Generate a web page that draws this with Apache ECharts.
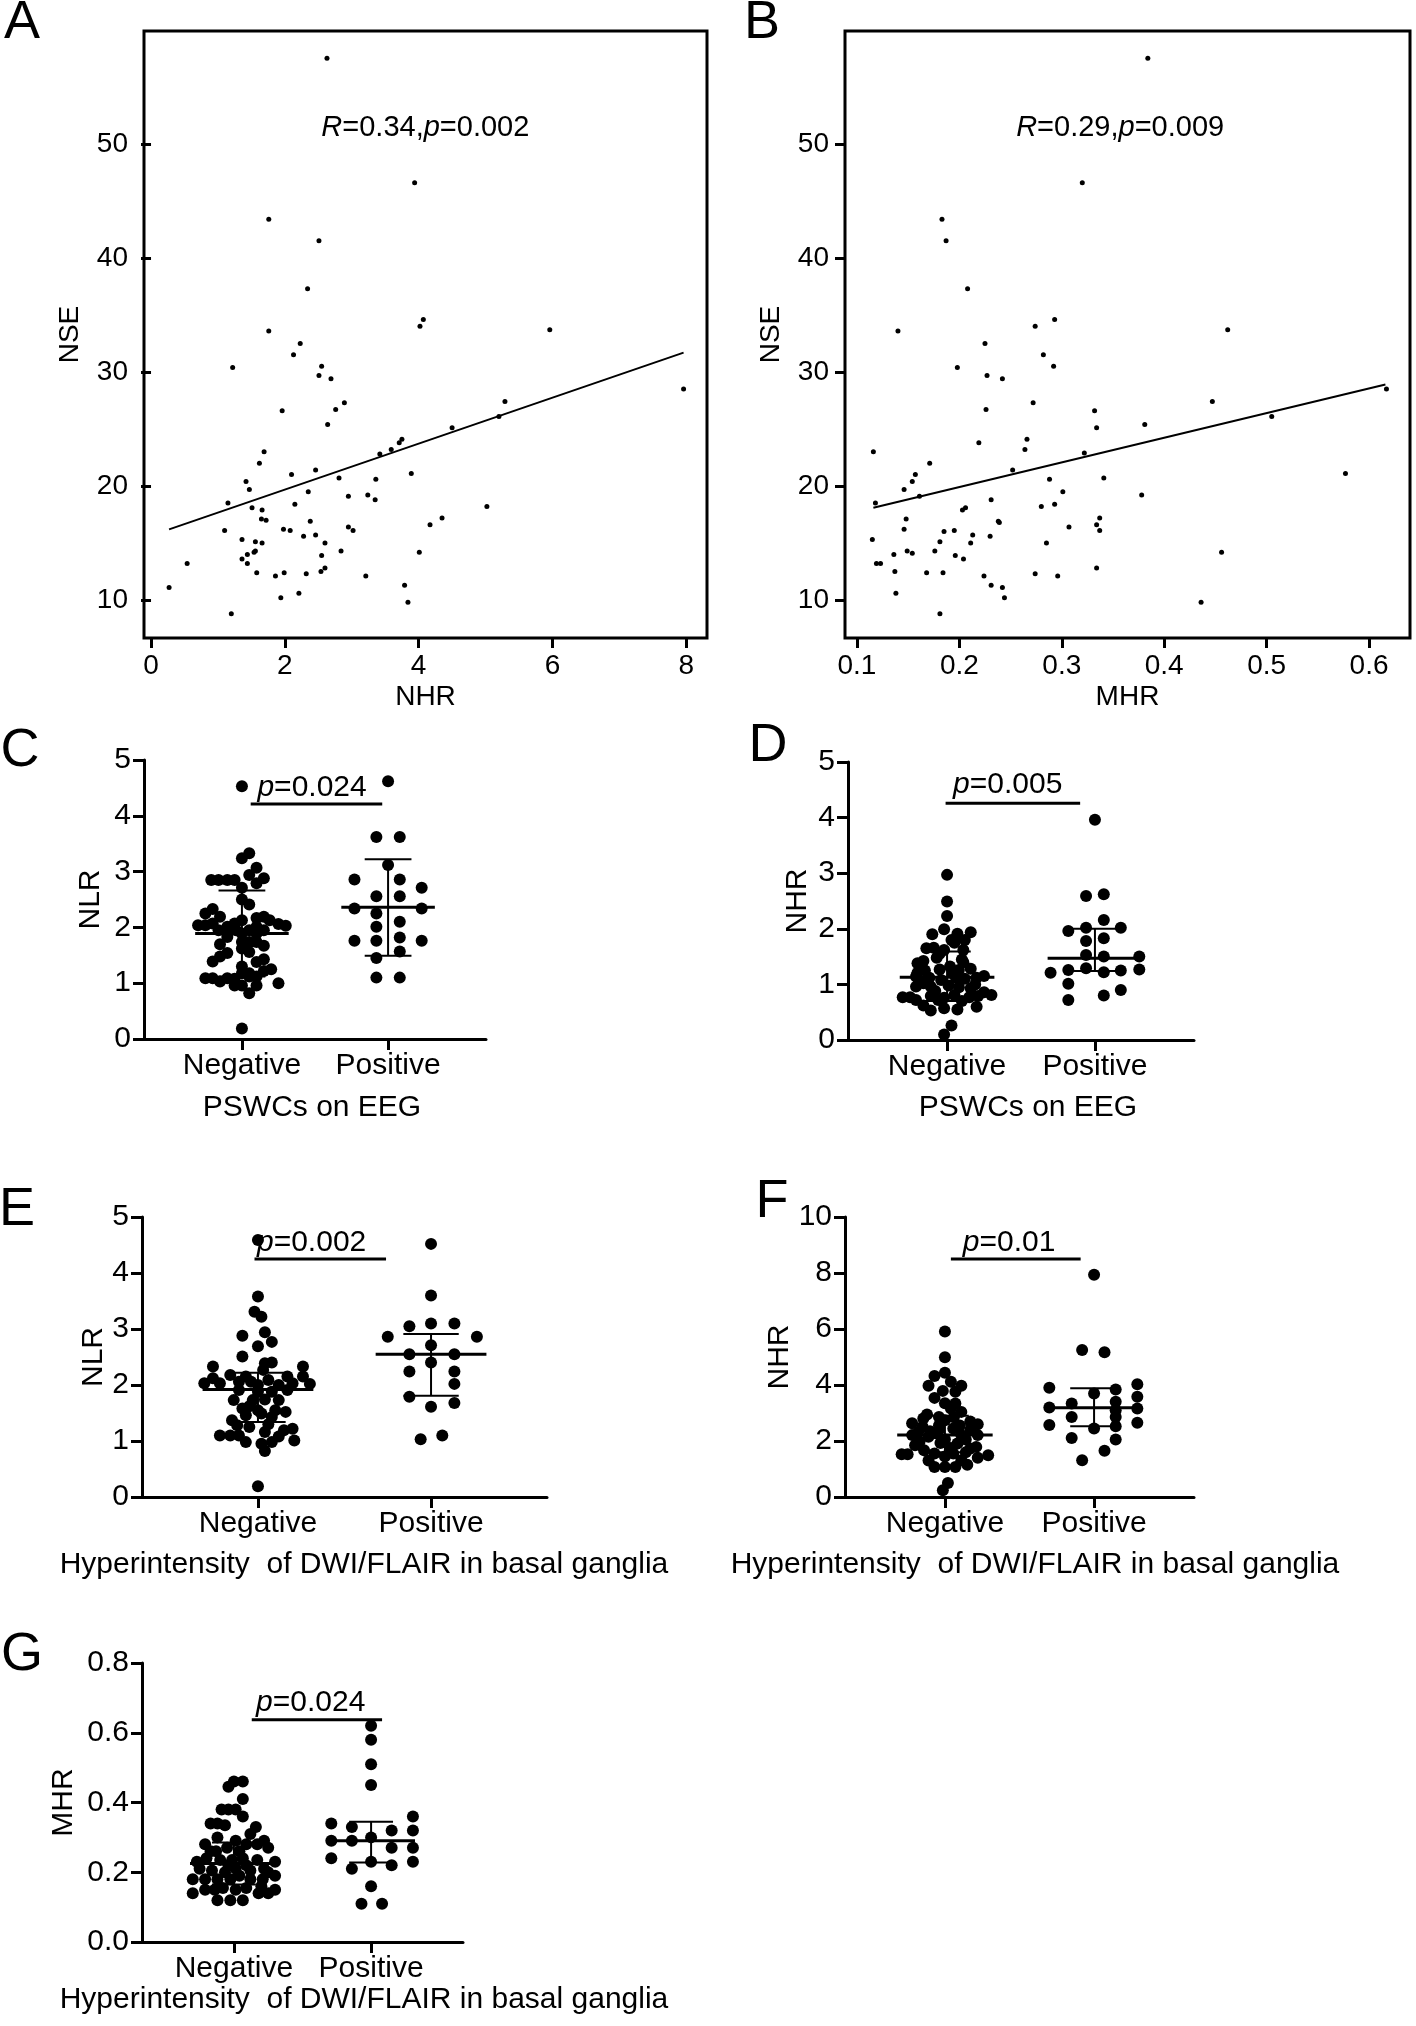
<!DOCTYPE html>
<html>
<head>
<meta charset="utf-8">
<script src="https://cdn.jsdelivr.net/npm/echarts@6/dist/echarts.min.js"></script>
<style>
html,body{margin:0;padding:0;background:#fff;}
#chart{width:1416px;height:2026px;}
</style>
</head>
<body>
<div id="chart"></div>
<script>
// ---------- DATA ----------
// Panel A: NHR vs NSE
const nhrA = [2.63,3.94,1.76,2.51,2.34,4.07,4.02,5.96,1.76,2.23,2.13,1.22,2.55,2.51,2.69,7.96,2.89,5.29,2.76,1.96,5.20,2.64,4.50,3.75,3.71,3.59,3.42,1.69,1.62,2.46,2.10,3.89,2.81,3.36,1.42,1.47,2.35,2.95,3.24,3.35,1.15,2.15,5.02,1.51,1.66,2.38,1.65,1.72,4.35,4.17,2.95,3.02,1.98,2.08,1.10,2.28,2.46,1.36,1.56,1.66,2.60,1.54,1.56,2.84,4.01,1.44,1.36,2.55,1.44,0.54,1.58,1.99,1.86,2.32,2.60,2.54,3.21,0.27,3.79,1.94,2.21,3.84,1.20];
const nseA = [57.5,46.6,43.4,41.5,37.3,34.6,34.0,33.7,33.6,32.5,31.5,30.4,30.5,29.7,29.4,28.5,27.3,27.4,26.7,26.6,26.1,25.4,25.1,24.1,23.8,23.2,22.8,23.0,22.0,21.4,21.0,21.1,20.7,20.6,20.4,19.7,19.5,19.1,19.2,18.8,18.5,18.4,18.2,18.1,17.9,16.9,17.1,17.0,17.2,16.6,16.4,16.1,16.2,16.1,16.1,15.6,15.7,15.3,15.1,15.0,15.0,14.2,14.3,14.3,14.2,14.0,13.6,13.9,13.2,13.2,12.4,12.4,12.1,12.3,12.8,12.5,12.1,11.1,11.3,10.2,10.6,9.8,8.8];
const fitA = [[0.27,16.2],[7.96,31.7]];
const statTextA = '{i|R}=0.34,{i|p}=0.002';
const statPosA = [4.10, 51.4];

// Panel B: MHR vs NSE
const mhrB = [0.384,0.320,0.183,0.187,0.208,0.293,0.274,0.462,0.140,0.225,0.282,0.198,0.292,0.227,0.242,0.617,0.272,0.447,0.332,0.226,0.505,0.381,0.334,0.266,0.219,0.264,0.322,0.116,0.171,0.252,0.157,0.577,0.341,0.288,0.154,0.146,0.301,0.161,0.378,0.231,0.118,0.293,0.280,0.206,0.203,0.337,0.148,0.238,0.239,0.334,0.307,0.337,0.185,0.195,0.146,0.230,0.213,0.115,0.181,0.211,0.285,0.176,0.149,0.154,0.456,0.136,0.204,0.196,0.119,0.123,0.137,0.168,0.184,0.274,0.334,0.224,0.296,0.231,0.242,0.244,0.138,0.436,0.181];
const nseB = [57.5,46.6,43.4,41.5,37.3,34.6,34.0,33.7,33.6,32.5,31.5,30.4,30.5,29.7,29.4,28.5,27.3,27.4,26.6,26.7,26.1,25.4,25.1,24.1,23.8,23.2,22.9,23.0,22.0,21.4,21.0,21.1,20.7,20.6,20.4,19.7,19.5,19.1,19.2,18.8,18.5,18.4,18.2,18.1,17.9,17.2,17.1,16.9,16.8,16.6,16.4,16.1,16.0,16.1,16.2,15.6,15.7,15.3,15.1,15.0,15.0,14.3,14.3,14.1,14.2,14.0,13.6,13.9,13.2,13.2,12.5,12.4,12.4,12.3,12.8,12.1,12.1,11.3,11.1,10.2,10.6,9.8,8.8];
const fitB = [[0.116,18.1],[0.616,28.9]];
const statTextB = '{i|R}=0.29,{i|p}=0.009';
const statPosB = [0.357, 51.4];

const ticksA_x = [0,2,4,6,8];
const ticksB_x = [0.1,0.2,0.3,0.4,0.5,0.6];
const ticksAB_y = [10,20,30,40,50];

// Dot panels: [horizontal jitter (category units), value]
const groups = ['Negative','Positive'];
const negC = [[0,4.53],[0.05,3.33],[0,3.24],[0.10,3.07],[0.05,2.94],[0.15,2.88],[-0.21,2.85],[-0.16,2.85],[-0.10,2.85],[-0.05,2.85],[0.10,2.79],[0,2.71],[0,2.50],[0.05,2.41],[-0.20,2.33],[-0.25,2.25],[-0.15,2.19],[0.15,2.19],[0.10,2.17],[0,2.13],[0.19,2.13],[-0.20,2.07],[-0.05,2.07],[0.25,2.06],[-0.30,2.04],[-0.25,2.04],[0.30,2.03],[-0.10,2.01],[0.10,2.01],[-0.16,1.95],[-0.04,1.95],[0.05,1.95],[0.15,1.95],[-0.10,1.89],[0,1.89],[0.10,1.89],[-0.10,1.83],[0,1.74],[0.05,1.74],[0.10,1.74],[-0.15,1.70],[0.15,1.67],[0,1.62],[0.05,1.56],[-0.10,1.54],[-0.15,1.48],[0.15,1.43],[-0.20,1.39],[0.10,1.38],[0,1.30],[0.20,1.25],[0.15,1.22],[0,1.18],[0.05,1.18],[-0.25,1.09],[-0.20,1.09],[-0.10,1.09],[-0.05,1.08],[0.05,1.12],[0.10,1.12],[-0.15,1.03],[0.25,1.00],[-0.05,0.96],[0,0.96],[0.10,0.96],[0.05,0.82],[0,0.19]];
const posC = [[0,4.62],[-0.08,3.62],[0.08,3.62],[0,3.12],[-0.23,2.86],[0.08,2.86],[0.23,2.71],[-0.08,2.56],[0.08,2.56],[-0.23,2.34],[0.23,2.34],[-0.08,2.25],[0.08,2.10],[-0.08,2.01],[0.08,1.82],[-0.23,1.76],[-0.08,1.76],[0.23,1.76],[0.08,1.57],[-0.08,1.45],[-0.08,1.10],[0.08,1.10]];
const statsC = [[1,1.89,1.12,2.66],[2,2.36,1.49,3.22]];
const pC = [1.06,1.96,4.21,1.48,4.50];

const negD = [[0,2.97],[0,2.49],[0,2.23],[-0.02,1.99],[-0.10,1.90],[0.07,1.91],[0.16,1.94],[0.03,1.80],[0.12,1.80],[-0.14,1.65],[-0.09,1.66],[-0.02,1.62],[0.11,1.62],[0.05,1.75],[-0.07,1.48],[-0.20,1.38],[-0.16,1.42],[0.11,1.40],[-0.15,1.25],[0.02,1.32],[0.08,1.26],[0.16,1.28],[-0.05,1.27],[-0.21,1.14],[-0.12,1.12],[0.25,1.15],[0.06,1.12],[-0.04,1.08],[0.12,1.10],[0.20,1.12],[-0.21,0.96],[-0.11,0.96],[0.01,0.98],[0.08,0.95],[0.16,0.93],[-0.16,1.02],[-0.30,0.77],[-0.25,0.77],[-0.21,0.72],[-0.11,0.79],[-0.02,0.76],[0.05,0.81],[0.15,0.77],[0.21,0.79],[0.30,0.81],[-0.06,0.72],[-0.11,0.53],[-0.02,0.57],[0.07,0.55],[0.20,0.60],[-0.16,0.62],[0.03,0.26],[-0.02,0.10],[0.25,0.86],[0.10,0.70],[-0.08,0.88],[0.19,1.00],[-0.20,1.21],[0.10,1.45],[-0.05,1.55],[0.04,1.20]];
const posD = [[0,3.96],[-0.06,2.59],[0.06,2.62],[0.06,2.16],[-0.18,1.96],[-0.06,2.02],[0.175,2.02],[-0.06,1.78],[0.06,1.83],[-0.06,1.53],[0.30,1.50],[0.06,1.50],[-0.30,1.21],[-0.18,1.26],[-0.06,1.29],[0.06,1.22],[0.175,1.25],[0.30,1.27],[-0.18,1.01],[0.175,0.90],[0.06,0.80],[-0.18,0.72]];
const statsD = [[1,1.13,0.70,1.59],[2,1.47,1.24,2.00]];
const pD = [0.99,1.90,4.26,1.41,4.59];

const negE = [[0,4.59],[0,3.58],[-0.02,3.31],[0.02,3.22],[-0.09,2.88],[0.04,2.94],[0.08,2.77],[0,2.69],[-0.09,2.51],[0.04,2.39],[0.08,2.40],[-0.26,2.33],[0.26,2.33],[-0.16,2.18],[-0.26,2.12],[-0.07,2.15],[0.17,2.15],[0.26,2.15],[-0.31,2.03],[-0.22,2.03],[-0.11,2.06],[0,2.00],[0.12,2.00],[0.20,2.03],[0.30,2.02],[-0.11,1.91],[0,1.88],[0.08,1.88],[0.17,1.91],[-0.14,1.73],[-0.03,1.73],[0.04,1.74],[0.12,1.73],[-0.09,1.58],[0.10,1.55],[0,1.55],[-0.15,1.37],[-0.07,1.46],[0.02,1.49],[0.08,1.43],[0.16,1.52],[-0.22,1.10],[-0.16,1.10],[-0.11,1.10],[-0.05,1.25],[0.04,1.16],[0.15,1.19],[0.20,1.22],[0.21,1.01],[-0.07,0.98],[0.02,0.95],[0.08,0.98],[0.04,0.82],[0,0.19],[-0.04,2.06],[0.06,2.09],[-0.05,1.62],[0.06,1.30],[-0.12,1.28],[0.12,1.08],[0.03,2.27]];
const posE = [[0,4.52],[0,3.60],[-0.125,3.05],[0,3.10],[0.135,3.10],[-0.25,2.86],[0.265,2.86],[0,2.71],[-0.125,2.55],[0.135,2.55],[0,2.40],[-0.125,2.24],[0.135,2.24],[0.135,2.02],[-0.125,1.79],[0.135,1.68],[0,1.61],[-0.06,1.03],[0.065,1.10]];
const statsE = [[1,1.92,1.34,2.22],[2,2.55,1.81,2.91]];
const pE = [0.98,1.74,4.25,1.31,4.54];

const negF = [[0,5.91],[0,4.99],[-0.07,4.32],[0,4.44],[-0.11,3.97],[0.04,4.12],[0.11,3.97],[-0.014,3.79],[0.07,3.76],[-0.07,3.54],[0.07,3.34],[0.11,3.04],[0.04,3.16],[-0.04,2.86],[-0.145,2.80],[0,2.74],[-0.22,2.63],[-0.15,2.51],[0.056,2.45],[0.22,2.60],[0.17,2.39],[-0.056,2.27],[-0.22,2.21],[-0.11,2.15],[0.11,2.21],[0.22,2.21],[-0.17,1.97],[-0.03,1.93],[0.084,1.91],[0.21,1.79],[-0.29,1.53],[-0.25,1.53],[-0.14,1.67],[-0.07,1.55],[0.056,1.55],[0.17,1.73],[0.29,1.49],[-0.07,1.07],[0,1.07],[0.07,1.07],[0.11,1.31],[0.02,0.50],[-0.014,0.24],[-0.04,2.40],[0,2.05],[-0.10,2.35],[0.14,2.05],[-0.20,1.85],[0.17,2.70],[0,1.45],[-0.11,1.30],[0.22,1.40],[0.04,1.75],[-0.04,2.55],[0.10,2.55],[-0.18,2.30],[0,3.35],[0.14,1.60],[-0.12,2.95],[0.06,2.85],[0.15,1.15]];
const posF = [[0,7.94],[-0.08,5.25],[0.07,5.17],[-0.30,3.90],[0.145,3.84],[0.29,4.03],[0,3.70],[0.29,3.58],[-0.15,3.34],[0.145,3.40],[-0.30,3.20],[0.29,3.16],[0.145,3.10],[-0.15,2.86],[0.145,2.86],[0,2.45],[-0.30,2.57],[0.29,2.65],[0.145,2.53],[-0.15,2.11],[0.145,2.05],[0.07,1.65],[-0.08,1.31]];
const statsF = [[1,2.21,1.60,2.90],[2,3.19,2.53,3.88]];
const pF = [1.04,1.91,8.5,1.43,9.07];

const negG = [[0,0.46],[0.065,0.46],[-0.04,0.445],[0.065,0.41],[-0.09,0.38],[-0.04,0.38],[0.013,0.38],[0.065,0.36],[-0.17,0.34],[-0.12,0.34],[-0.065,0.335],[0.16,0.33],[0.12,0.31],[-0.21,0.28],[-0.12,0.30],[0.013,0.29],[0.22,0.29],[0.09,0.28],[-0.13,0.26],[-0.05,0.27],[0.17,0.28],[0.25,0.27],[-0.27,0.23],[-0.20,0.24],[-0.10,0.235],[-0.013,0.235],[0.065,0.24],[0.17,0.235],[0.30,0.23],[-0.25,0.21],[-0.16,0.205],[-0.065,0.20],[0.013,0.21],[0.12,0.205],[0.22,0.21],[-0.30,0.18],[-0.21,0.18],[-0.12,0.18],[-0.026,0.18],[0.04,0.19],[0.12,0.18],[0.21,0.18],[0.30,0.19],[-0.30,0.14],[-0.21,0.15],[-0.14,0.15],[-0.08,0.155],[0.013,0.15],[0.09,0.155],[0.18,0.14],[0.25,0.14],[0.30,0.15],[-0.12,0.12],[-0.026,0.12],[0.065,0.12],[0.04,0.26],[-0.04,0.22],[0.09,0.22],[0.25,0.20],[-0.17,0.26],[0.20,0.16]];
const posG = [[0,0.62],[0,0.58],[0,0.51],[0,0.45],[-0.29,0.34],[-0.14,0.33],[0.305,0.36],[0.15,0.32],[0.305,0.32],[-0.29,0.29],[-0.14,0.29],[0,0.30],[0.15,0.27],[0.305,0.27],[-0.29,0.24],[0.305,0.23],[-0.14,0.21],[0,0.23],[0.15,0.22],[0,0.16],[-0.07,0.11],[0.08,0.11]];
const statsG = [[1,0.225,0.165,0.285],[2,0.29,0.228,0.345]];
const pG = [1.13,2.08,0.637,1.56,0.685];

// ---------- CHART ----------
const FONT = "'Liberation Sans', Arial, Helvetica, sans-serif";
const BLACK = '#000';
const MEAN_HALF = 0.32, CAP_HALF = 0.16;

const grids = [
  {left:144, top:31, width:563, height:607, show:true, borderColor:BLACK, borderWidth:3, backgroundColor:'transparent'},
  {left:845, top:31, width:565, height:607, show:true, borderColor:BLACK, borderWidth:3, backgroundColor:'transparent'},
  {left:144, top:760, width:342, height:279},
  {left:848, top:762, width:346, height:278},
  {left:142, top:1217, width:405, height:280},
  {left:845, top:1217, width:349, height:280},
  {left:142, top:1663, width:321, height:279}
].map(g => Object.assign({containLabel:false, outerBoundsMode:'none'}, g));

const xAxes = [], yAxes = [], series = [];

function boxPanel(gi, xmin, xmax, xticks, xdec, xname, xs, ys, fit, statText, statPos) {
  xAxes.push({
    gridIndex:gi, type:'value', min:xmin, max:xmax,
    axisLine:{show:false}, splitLine:{show:false},
    axisTick:{show:true, customValues:xticks, length:10, lineStyle:{color:BLACK, width:3}},
    axisLabel:{show:true, customValues:xticks, margin:14, fontSize:28, color:BLACK, fontFamily:FONT,
      formatter: v => v.toFixed(xdec)},
    name:xname, nameLocation:'middle', nameGap:45,
    nameTextStyle:{fontSize:28, color:BLACK, fontFamily:FONT}
  });
  yAxes.push({
    gridIndex:gi, type:'value', min:6.67, max:59.9,
    axisLine:{show:false}, splitLine:{show:false},
    axisTick:{show:true, customValues:ticksAB_y, length:10, lineStyle:{color:BLACK, width:3}},
    axisLabel:{show:true, customValues:ticksAB_y, margin:16, fontSize:28, color:BLACK, fontFamily:FONT},
    name:'NSE', nameLocation:'middle', nameGap:60,
    nameTextStyle:{fontSize:28, color:BLACK, fontFamily:FONT}
  });
  const idx = xAxes.length - 1;
  series.push({
    type:'scatter', xAxisIndex:idx, yAxisIndex:idx, symbolSize:5,
    itemStyle:{color:BLACK, opacity:1}, data: xs.map((x,i) => [x, ys[i]]), silent:true, z:3
  });
  series.push({
    type:'line', xAxisIndex:idx, yAxisIndex:idx, data:fit, showSymbol:false, symbol:'none',
    lineStyle:{color:BLACK, width:2}, silent:true, z:4
  });
  series.push({
    type:'custom', xAxisIndex:idx, yAxisIndex:idx, data:[statPos], silent:true, z:5,
    renderItem:(params, api) => {
      const p = api.coord([api.value(0), api.value(1)]);
      return {type:'text', x:p[0], y:p[1], style:{
        text:statText, align:'center', verticalAlign:'middle', fill:BLACK,
        font:'29px ' + FONT,
        rich:{i:{fontStyle:'italic', fontSize:29, fontFamily:FONT, fill:BLACK}}
      }};
    }
  });
}

function dotPanel(gi, ymax, yint, ydec, yname, ynameGap, neg, pos, stats, pAnn, pText) {
  xAxes.push({
    gridIndex:gi, type:'value', min:0.33, max:2.67,
    axisLine:{show:true, onZero:false, lineStyle:{color:BLACK, width:3}},
    splitLine:{show:false},
    axisTick:{show:true, customValues:[1,2], length:11, lineStyle:{color:BLACK, width:3}},
    axisLabel:{show:true, customValues:[1,2], margin:12, fontSize:30, color:BLACK, fontFamily:FONT,
      formatter: v => groups[Math.round(v) - 1]}
  });
  yAxes.push({
    gridIndex:gi, type:'value', min:0, max:ymax, interval:yint,
    axisLine:{show:true, onZero:false, lineStyle:{color:BLACK, width:3}},
    splitLine:{show:false},
    axisTick:{show:true, length:11, lineStyle:{color:BLACK, width:3}},
    axisLabel:{show:true, margin:13, fontSize:30, color:BLACK, fontFamily:FONT,
      formatter: v => v.toFixed(ydec)},
    name:yname, nameLocation:'middle', nameGap:ynameGap,
    nameTextStyle:{fontSize:30, color:BLACK, fontFamily:FONT}
  });
  const idx = xAxes.length - 1;
  series.push({
    type:'scatter', xAxisIndex:idx, yAxisIndex:idx, symbolSize:12, itemStyle:{color:BLACK, opacity:1},
    data: neg.map(d => [1 + d[0], d[1]]), silent:true, z:3
  });
  series.push({
    type:'scatter', xAxisIndex:idx, yAxisIndex:idx, symbolSize:12, itemStyle:{color:BLACK, opacity:1},
    data: pos.map(d => [2 + d[0], d[1]]), silent:true, z:3
  });
  series.push({
    type:'custom', xAxisIndex:idx, yAxisIndex:idx, data:stats, silent:true, z:4,
    renderItem:(params, api) => {
      const x = api.value(0), m = api.value(1), lo = api.value(2), hi = api.value(3);
      const L = (a, b, w) => {
        const p1 = api.coord(a), p2 = api.coord(b);
        return {type:'line', shape:{x1:p1[0], y1:p1[1], x2:p2[0], y2:p2[1]}, style:{stroke:BLACK, lineWidth:w}};
      };
      return {type:'group', children:[
        L([x - MEAN_HALF, m], [x + MEAN_HALF, m], 3),
        L([x, lo], [x, hi], 2),
        L([x - CAP_HALF, hi], [x + CAP_HALF, hi], 2),
        L([x - CAP_HALF, lo], [x + CAP_HALF, lo], 2)
      ]};
    }
  });
  series.push({
    type:'custom', xAxisIndex:idx, yAxisIndex:idx, data:[pAnn], silent:true, z:5,
    renderItem:(params, api) => {
      const a = api.coord([api.value(0), api.value(2)]);
      const b = api.coord([api.value(1), api.value(2)]);
      const t = api.coord([api.value(3), api.value(4)]);
      return {type:'group', children:[
        {type:'line', shape:{x1:a[0], y1:a[1], x2:b[0], y2:b[1]}, style:{stroke:BLACK, lineWidth:3}},
        {type:'text', x:t[0], y:t[1], style:{
          text:pText, align:'center', verticalAlign:'middle', fill:BLACK, font:'30px ' + FONT,
          rich:{i:{fontStyle:'italic', fontSize:30, fontFamily:FONT, fill:BLACK}}
        }}
      ]};
    }
  });
}

boxPanel(0, -0.105, 8.31, ticksA_x, 0, 'NHR', nhrA, nseA, fitA, statTextA, statPosA);
boxPanel(1, 0.0883, 0.640, ticksB_x, 1, 'MHR', mhrB, nseB, fitB, statTextB, statPosB);
dotPanel(2, 5, 1, 0, 'NLR', 38, negC, posC, statsC, pC, '{i|p}=0.024');
dotPanel(3, 5, 1, 0, 'NHR', 35, negD, posD, statsD, pD, '{i|p}=0.005');
dotPanel(4, 5, 1, 0, 'NLR', 33, negE, posE, statsE, pE, '{i|p}=0.002');
dotPanel(5, 10, 2, 0, 'NHR', 33, negF, posF, statsF, pF, '{i|p}=0.01');
dotPanel(6, 0.8, 0.2, 1, 'MHR', 63, negG, posG, statsG, pG, '{i|p}=0.024');

const letters = [['A',22,23],['B',762,23],['C',20,751],['D',768,746],['E',17,1210],['F',772,1202],['G',22,1655]];
const xTitles = [
  ['PSWCs on EEG',312,1108],['PSWCs on EEG',1028,1108],
  ['Hyperintensity  of DWI/FLAIR in basal ganglia',364,1565],
  ['Hyperintensity  of DWI/FLAIR in basal ganglia',1035,1565],
  ['Hyperintensity  of DWI/FLAIR in basal ganglia',364,2000]
];
const graphic = [];
letters.forEach(([t,x,y]) => graphic.push({type:'text', x, y, silent:true,
  style:{text:t, font:'54px ' + FONT, fill:BLACK, align:'center', verticalAlign:'middle'}}));
xTitles.forEach(([t,x,y]) => graphic.push({type:'text', x, y, silent:true,
  style:{text:t, font:'30px ' + FONT, fill:BLACK, align:'center', verticalAlign:'middle'}}));

const chart = echarts.init(document.getElementById('chart'), null, {renderer:'canvas'});
chart.setOption({
  backgroundColor:'#fff',
  animation:false,
  grid:grids,
  xAxis:xAxes,
  yAxis:yAxes,
  series:series,
  graphic:graphic
});
</script>
</body>
</html>
